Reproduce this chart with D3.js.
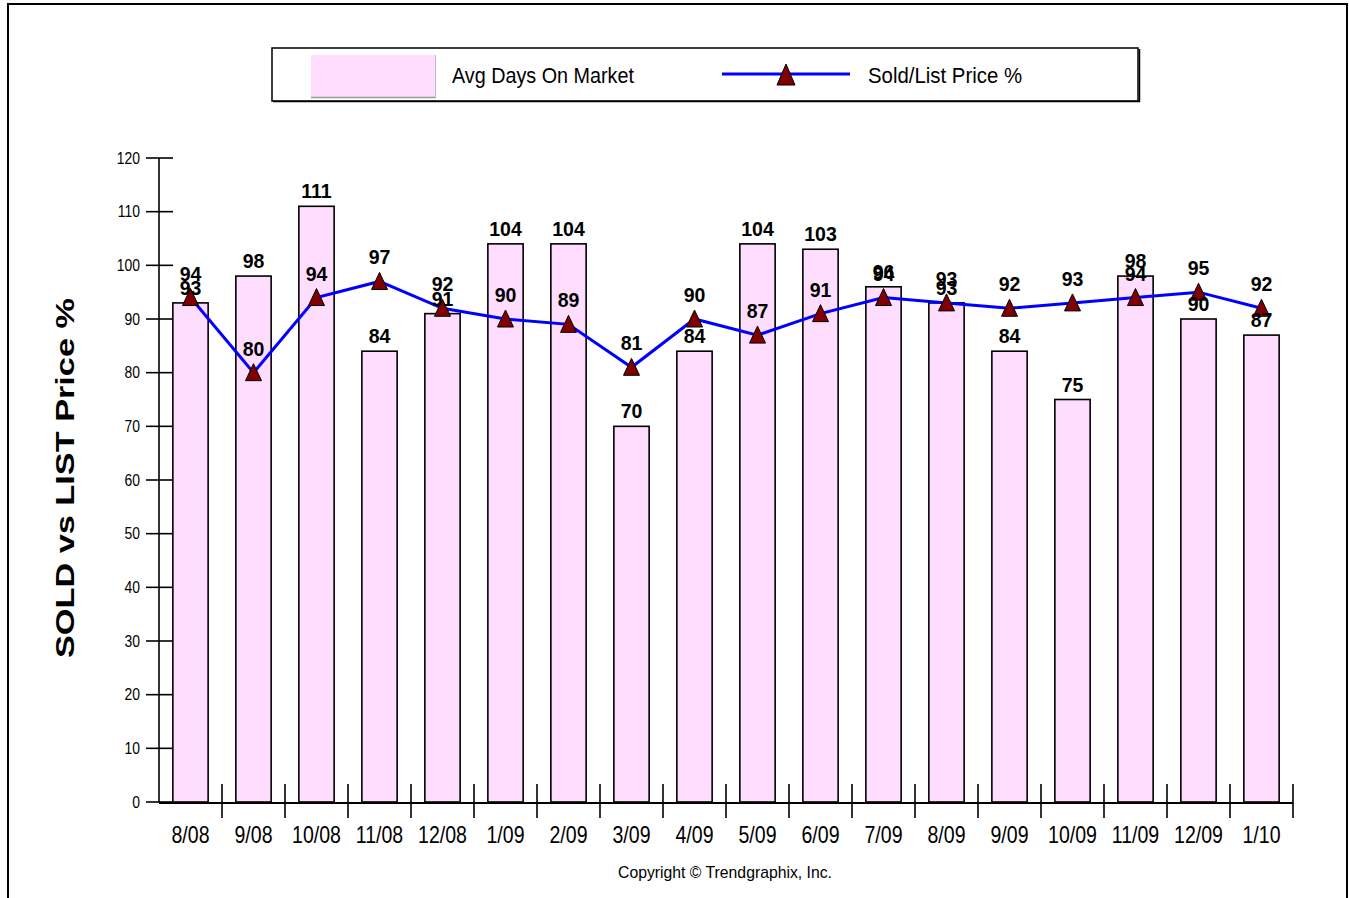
<!DOCTYPE html>
<html><head><meta charset="utf-8">
<script src="https://cdn.jsdelivr.net/npm/d3@7"></script>
<style>
body{margin:0;background:#fff}
svg{display:block}
text{font-family:"Liberation Sans",Arial,Helvetica,sans-serif;fill:#000}
</style>
</head><body>
<svg id="chart" width="1349" height="898"></svg>
<script>
const months = ["8/08","9/08","10/08","11/08","12/08","1/09","2/09","3/09","4/09","5/09","6/09","7/09","8/09","9/09","10/09","11/09","12/09","1/10"];
const avgDaysOnMarket = [93,98,111,84,91,104,104,70,84,104,103,96,93,84,75,98,90,87];
const soldListPct = [94,80,94,97,92,90,89,81,90,87,91,94,93,92,93,94,95,92];
const yTicks = [0,10,20,30,40,50,60,70,80,90,100,110,120];
const seriesNames = ["Avg Days On Market","Sold/List Price %"];
const yTitle = "SOLD vs LIST Price %";
const copyright = "Copyright \u00A9 Trendgraphix, Inc.";

const svg = d3.select("#chart");
const barFill = "#FFDDFF";
const lineColor = "#0000FF";
const markerFill = "#800000";

// outer frame
svg.append("rect").attr("x",8).attr("y",4).attr("width",1339).attr("height",900)
  .attr("fill","none").attr("stroke","#000").attr("stroke-width",2);

const x = d3.scaleBand().domain(months).range([159,1293]).paddingInner(0.44).paddingOuter(0.22);
const y = d3.scaleLinear().domain([0,120]).range([802,158]);
const step = x.step();

const tri = "M0,-9L8,8L-8,8Z";

// bars
svg.append("g").selectAll("rect").data(months).join("rect")
  .attr("x",d=>x(d)).attr("width",x.bandwidth())
  .attr("y",(d,i)=>y(avgDaysOnMarket[i]))
  .attr("height",(d,i)=>y(0)-y(avgDaysOnMarket[i]))
  .attr("fill",barFill).attr("stroke","#000").attr("stroke-width",1.6);

// y axis
const ya = svg.append("g");
ya.append("line").attr("x1",159).attr("x2",159).attr("y1",y(120)).attr("y2",y(0)+1)
  .attr("stroke","#000").attr("stroke-width",1.6);
ya.selectAll("line.t").data(yTicks).join("line").attr("class","t")
  .attr("x1",146).attr("x2",173).attr("y1",d=>y(d)).attr("y2",d=>y(d))
  .attr("stroke","#000").attr("stroke-width",1.6);
ya.selectAll("text").data(yTicks).join("text")
  .attr("transform",d=>`translate(140,${y(d)+5.5}) scale(0.87,1)`)
  .attr("text-anchor","end").attr("font-size",16).text(d=>d);

// x axis
const xa = svg.append("g");
xa.append("line").attr("x1",159).attr("x2",1293).attr("y1",y(0)+1).attr("y2",y(0)+1)
  .attr("stroke","#000").attr("stroke-width",2);
xa.selectAll("line.t").data(months).join("line").attr("class","t")
  .attr("x1",d=>x(d)-x.step()*x.paddingOuter()+step).attr("x2",d=>x(d)-x.step()*x.paddingOuter()+step)
  .attr("y1",784).attr("y2",818).attr("stroke","#000").attr("stroke-width",1.6);
xa.selectAll("text").data(months).join("text")
  .attr("transform",d=>`translate(${x(d)+x.bandwidth()/2},843) scale(0.85,1)`)
  .attr("text-anchor","middle").attr("font-size",23).text(d=>d);

// line
const cx = d=>x(d)+x.bandwidth()/2;
svg.append("path").datum(months)
  .attr("d",d3.line().x(d=>cx(d)).y((d,i)=>y(soldListPct[i])))
  .attr("fill","none").attr("stroke",lineColor).attr("stroke-width",3);
svg.append("g").selectAll("path").data(months).join("path")
  .attr("d",tri).attr("transform",(d,i)=>`translate(${cx(d)},${y(soldListPct[i])})`)
  .attr("fill",markerFill).attr("stroke","#000").attr("stroke-width",1);

// bar labels
svg.append("g").selectAll("text").data(months).join("text")
  .attr("transform",(d,i)=>`translate(${cx(d)},${y(avgDaysOnMarket[i])-8}) scale(0.93,1)`)
  .attr("text-anchor","middle").attr("font-size",21).attr("font-weight","bold")
  .text((d,i)=>avgDaysOnMarket[i]);
// line labels
svg.append("g").selectAll("text").data(months).join("text")
  .attr("transform",(d,i)=>`translate(${cx(d)},${y(soldListPct[i])-17}) scale(0.93,1)`)
  .attr("text-anchor","middle").attr("font-size",21).attr("font-weight","bold")
  .text((d,i)=>soldListPct[i]);

// y title
svg.append("text").attr("transform","translate(74,478) rotate(-90)")
  .attr("text-anchor","middle").attr("font-size",25).attr("font-weight","bold")
  .attr("textLength",360).attr("lengthAdjust","spacingAndGlyphs").text(yTitle);

// copyright
svg.append("text").attr("x",618).attr("y",878).attr("font-size",17)
  .attr("textLength",214).attr("lengthAdjust","spacingAndGlyphs").text(copyright);

// legend
const lg = svg.append("g");
lg.append("rect").attr("x",272).attr("y",48).attr("width",866).attr("height",53)
  .attr("fill","#fff").attr("stroke","#000").attr("stroke-width",1.5);
lg.append("line").attr("x1",273).attr("x2",1140).attr("y1",101.5).attr("y2",101.5).attr("stroke","#000").attr("stroke-width",1.5);
lg.append("line").attr("x1",1139.5).attr("x2",1139.5).attr("y1",49).attr("y2",102).attr("stroke","#000").attr("stroke-width",1.5);
lg.append("rect").attr("x",311).attr("y",55).attr("width",124).attr("height",42).attr("fill",barFill);
lg.append("line").attr("x1",311).attr("x2",436).attr("y1",97.5).attr("y2",97.5).attr("stroke","#999").attr("stroke-width",1.5);
lg.append("line").attr("x1",435.5).attr("x2",435.5).attr("y1",55).attr("y2",98).attr("stroke","#bbb").attr("stroke-width",1);
lg.append("text").attr("x",452).attr("y",83).attr("font-size",22)
  .attr("textLength",182).attr("lengthAdjust","spacingAndGlyphs").text(seriesNames[0]);
lg.append("line").attr("x1",722).attr("x2",850).attr("y1",74).attr("y2",74).attr("stroke",lineColor).attr("stroke-width",3);
lg.append("path").attr("d","M0,-11L9,10L-9,10Z").attr("transform","translate(786,75)")
  .attr("fill",markerFill).attr("stroke","#000").attr("stroke-width",1);
lg.append("text").attr("x",868).attr("y",83).attr("font-size",22)
  .attr("textLength",154).attr("lengthAdjust","spacingAndGlyphs").text(seriesNames[1]);
</script>
</body></html>
